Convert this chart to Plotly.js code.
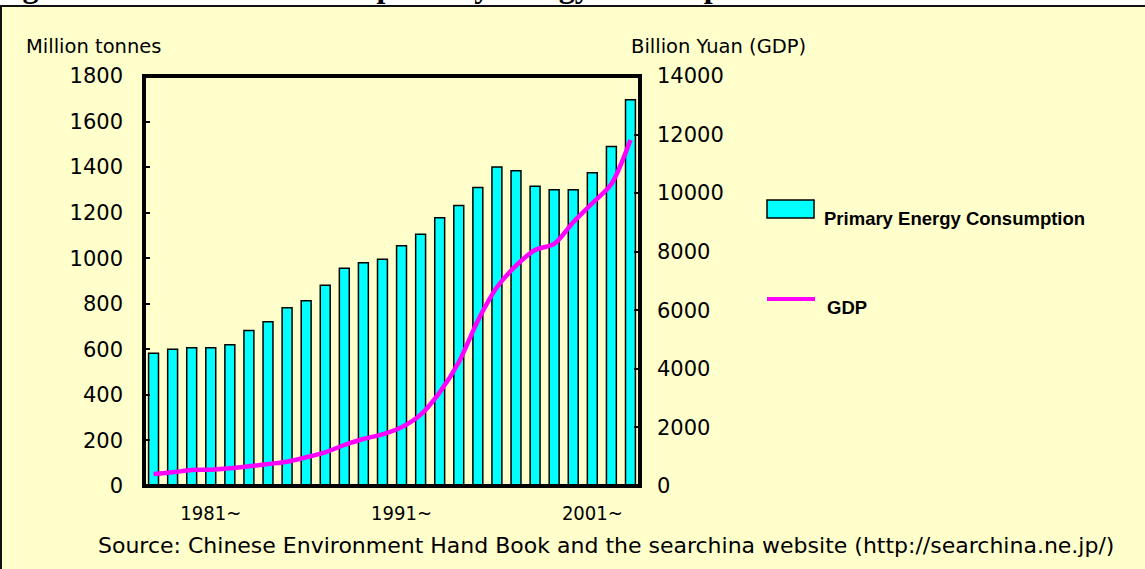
<!DOCTYPE html>
<html>
<head>
<meta charset="utf-8">
<script src="https://cdn.plot.ly/plotly-3.0.1.min.js"></script>
<style>
  html, body { margin: 0; padding: 0; background: #ffffff; width: 1145px; height: 569px; overflow: hidden; }
  #frame { position: absolute; left: 0; top: 5px; width: 1143px; height: 562px; border-top: 2px solid #111; border-left: 2px solid #111; background: #FFFFCC; }
  #titleclip { position: absolute; left: 0; top: 0; width: 1145px; height: 5px; overflow: hidden; }
  #titletext { position: absolute; left: -6px; top: -30px; white-space: nowrap; font-family: "Liberation Serif", "Times New Roman", serif; font-weight: bold; font-size: 32px; line-height: 32px; color: #000; }
  #chart { position: absolute; left: 0; top: 0; width: 1145px; height: 569px; }
</style>
</head>
<body>
<div id="frame"></div>
<div id="titleclip"><div id="titletext">Figure 2: Trends in China's primary energy consumption and GDP</div></div>
<div id="chart"></div>
<script>
// ---- data ----
const years = [1978,1979,1980,1981,1982,1983,1984,1985,1986,1987,1988,1989,1990,
               1991,1992,1993,1994,1995,1996,1997,1998,1999,2000,2001,2002,2003];
const energy = [583,600,607,607,620,683,721,783,813,881,956,980,995,
                1055,1105,1178,1231,1310,1400,1384,1316,1301,1301,1375,1490,1696];
const gdp = [410,467,546,557,604,672,751,830,980,1150,1400,1605,1765,
             2004,2435,3200,4224,5645,6786,7523,8060,8264,9005,9654,10313,11816];
const tickYears = [1981,1991,2001];
const tickLabels = ["1981~","1991~","2001~"];
const seriesNames = ["Primary Energy Consumption","GDP"];
const leftTitle = "Million tonnes";
const rightTitle = "Billion Yuan (GDP)";
const sourceText = "Source: Chinese Environment Hand Book and the searchina website (http://searchina.ne.jp/)";

// ---- layout helpers (pixel -> paper) ----
const W = 1145, H = 569;
const L = 144, R = 640, T = 76, B = 486;
const px = x => (x - L) / (R - L);
const py = y => (B - y) / (B - T);

const sans = "DejaVu Sans, Verdana, sans-serif";
const cond = "DejaVu Sans Condensed, DejaVu Sans, sans-serif";
const legendFont = "Liberation Sans, Arial, sans-serif";

const traces = [
  {
    type: 'bar', x: years, y: energy, name: seriesNames[0],
    marker: { color: '#00FFFF', line: { color: '#000000', width: 1.5 } },
    hoverinfo: 'x+y', showlegend: false
  },
  {
    type: 'scatter', mode: 'lines', x: years, y: gdp, name: seriesNames[1], yaxis: 'y2',
    line: { color: '#FF00FF', width: 4.5, shape: 'spline', smoothing: 0.8 },
    showlegend: false
  }
];

const layout = {
  width: W, height: H,
  margin: { l: L, r: W - R, t: T, b: H - B, pad: 0 },
  paper_bgcolor: 'rgba(0,0,0,0)',
  plot_bgcolor: 'rgba(0,0,0,0)',
  bargap: 0.48,
  showlegend: false,
  xaxis: {
    range: [1977.5, 2003.5],
    tickmode: 'array', tickvals: tickYears, ticktext: tickLabels,
    ticks: '', showgrid: false, zeroline: false, showline: false,
    tickfont: { family: cond, size: 20, color: '#000' },
    ticklabelstandoff: 13
  },
  yaxis: {
    range: [0, 1800], dtick: 200, tick0: 0,
    ticks: 'inside', ticklen: 6, tickwidth: 2, tickcolor: '#000',
    showgrid: false, zeroline: false, showline: false,
    tickfont: { family: sans, size: 21, color: '#000' },
    ticklabelstandoff: 20
  },
  yaxis2: {
    overlaying: 'y', side: 'right',
    range: [0, 14000], dtick: 2000, tick0: 0, tickformat: 'd',
    ticks: 'inside', ticklen: 6, tickwidth: 2, tickcolor: '#000',
    showgrid: false, zeroline: false, showline: false,
    tickfont: { family: sans, size: 21, color: '#000' },
    ticklabelstandoff: 16
  },
  shapes: [
    { type: 'rect', xref: 'paper', yref: 'paper', x0: 0, x1: 1, y0: 0, y1: 1,
      line: { color: '#000', width: 4 }, layer: 'above' },
    // custom legend swatches
    { type: 'rect', xref: 'paper', yref: 'paper', x0: px(767), x1: px(814), y0: py(218), y1: py(200),
      fillcolor: '#00FFFF', line: { color: '#000', width: 1.5 } },
    { type: 'line', xref: 'paper', yref: 'paper', x0: px(767), x1: px(815), y0: py(299), y1: py(299),
      line: { color: '#FF00FF', width: 4 } }
  ],
  annotations: [
    { text: leftTitle, xref: 'paper', yref: 'paper', x: px(24), y: py(47), xanchor: 'left', yanchor: 'middle',
      showarrow: false, font: { family: sans, size: 19.5, color: '#000' } },
    { text: rightTitle, xref: 'paper', yref: 'paper', x: px(629), y: py(47), xanchor: 'left', yanchor: 'middle',
      showarrow: false, font: { family: sans, size: 19.5, color: '#000' } },
    { text: seriesNames[0], xref: 'paper', yref: 'paper', x: px(822), y: py(218), xanchor: 'left', yanchor: 'middle',
      showarrow: false, font: { family: legendFont, size: 18.5, color: '#000', weight: 'bold' } },
    { text: seriesNames[1], xref: 'paper', yref: 'paper', x: px(825), y: py(307), xanchor: 'left', yanchor: 'middle',
      showarrow: false, font: { family: legendFont, size: 18.5, color: '#000', weight: 'bold' } },
    { text: sourceText, xref: 'paper', yref: 'paper', x: px(606), y: py(545), xanchor: 'center', yanchor: 'middle',
      showarrow: false, font: { family: sans, size: 22, color: '#000' } }
  ]
};

Plotly.newPlot('chart', traces, layout, { displayModeBar: false, staticPlot: true });
</script>
</body>
</html>
